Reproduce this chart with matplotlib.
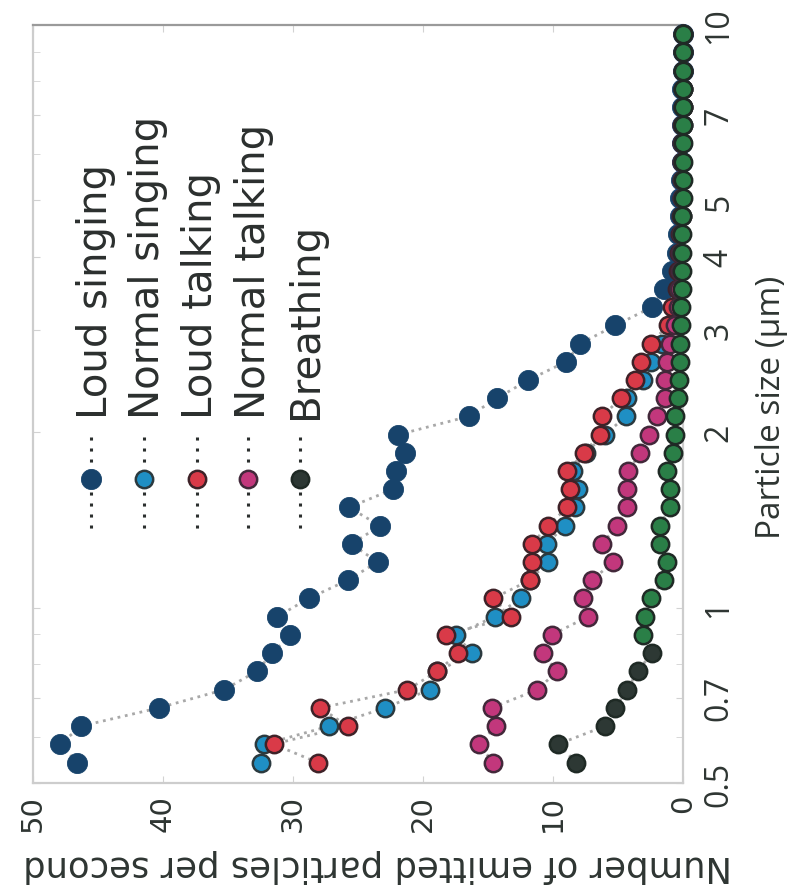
import matplotlib
matplotlib.use("Agg")
import matplotlib.pyplot as plt
from matplotlib.lines import Line2D
import numpy as np

# ---------------- data ----------------
sizes = [0.542, 0.583, 0.626, 0.673, 0.723, 0.777, 0.835, 0.898, 0.965, 1.037,
         1.114, 1.197, 1.286, 1.382, 1.486, 1.596, 1.715, 1.843, 1.981, 2.129,
         2.288, 2.458, 2.642, 2.839, 3.051, 3.278, 3.523, 3.786, 4.068, 4.371,
         4.698, 5.048, 5.425, 5.829, 6.264, 6.732, 7.234, 7.774, 8.354, 8.977, 9.647]

loud_singing = [46.6, 47.9, 46.3, 40.3, 35.3, 32.8, 31.6, 30.2, 31.2, 28.8,
                25.8, 23.5, 25.5, 23.3, 25.7, 22.3, 22.1, 21.4, 21.9, 16.5,
                14.3, 11.9, 9.0, 7.9, 5.2, 2.4, 1.5, 0.85, 0.5, 0.35,
                0.25, 0.2, 0.15, 0.1, 0.08, 0.06, 0.05, 0.04, 0.03, 0.02, 0.02]
normal_singing = [32.5, 32.2, 27.2, 22.9, 19.5, 18.9, 16.2, 17.5, 14.5, 12.5,
                  11.8, 10.4, 10.5, 9.1, 8.3, 8.1, 8.5, 7.5, 6.0, 4.4,
                  4.3, 3.1, 2.5, 1.6, 0.85, 0.6, 0.4, 0.3, 0.2, 0.15,
                  0.1, 0.08, 0.06, 0.05, 0.04, 0.03, 0.02, 0.02, 0.01, 0.01, 0.01]
loud_talking = [28.1, 31.5, 25.8, 27.9, 21.2, 18.9, 17.3, 18.2, 13.2, 14.6,
                11.8, 11.6, 11.6, 10.4, 8.9, 8.7, 8.9, 7.6, 6.4, 6.2,
                4.8, 3.7, 3.2, 2.5, 1.15, 0.85, 0.5, 0.4, 0.3, 0.2,
                0.15, 0.1, 0.08, 0.06, 0.05, 0.04, 0.03, 0.02, 0.02, 0.01, 0.01]
normal_talking = [14.6, 15.7, 14.4, 14.7, 11.2, 9.7, 10.8, 10.1, 7.3, 7.7,
                  7.0, 5.4, 6.2, 5.1, 4.3, 4.3, 4.2, 3.3, 2.6, 2.0,
                  1.4, 1.4, 1.2, 1.0, 0.6, 0.4, 0.3, 0.25, 0.2, 0.15,
                  0.1, 0.08, 0.06, 0.05, 0.04, 0.03, 0.02, 0.02, 0.01, 0.01, 0.01]
breathing = [8.2, 9.6, 6.0, 5.2, 4.3, 3.5, 2.4, 3.1, 2.9, 2.5,
             1.5, 1.2, 1.8, 1.8, 1.0, 1.0, 1.2, 0.8, 0.6, 0.6,
             0.4, 0.3, 0.25, 0.2, 0.15, 0.12, 0.1, 0.08, 0.06, 0.05,
             0.04, 0.03, 0.03, 0.02, 0.02, 0.01, 0.01, 0.01, 0.0, 0.0, 0.0]

series_names = ["Loud singing", "Normal singing", "Loud talking", "Normal talking", "Breathing"]
size_ticks = [0.5, 0.7, 1, 2, 3, 4, 5, 7, 10]
size_tick_labels = ["0.5", "0.7", "1", "2", "3", "4", "5", "7", "10"]
count_ticks = [0, 10, 20, 30, 40, 50]
count_tick_labels = ["0", "10", "20", "30", "40", "50"]

# ---------------- style ----------------
W, H = 788, 895
fig = plt.figure(figsize=(W / 100, H / 100), dpi=100)
fig.patch.set_facecolor("white")

ax_l, ax_r, ax_t, ax_b = 33, 683, 26, 784
ax = fig.add_axes([ax_l / W, 1 - ax_b / H, (ax_r - ax_l) / W, (ax_b - ax_t) / H])

styles = [
    dict(mfc="#17436b", mec="#17436b", ms=14.5, mew=0.6),
    dict(mfc="#1f8fc4", mec="#2b3a3f", ms=12.5, mew=1.8),
    dict(mfc="#d93a48", mec="#3e2228", ms=12.5, mew=1.8),
    dict(mfc="#c2377c", mec="#42283a", ms=12.5, mew=1.8),
    dict(mfc="#2d3834", mec="#1f2a25", ms=12.5, mew=1.8),
]
all_series = [loud_singing, normal_singing, loud_talking, normal_talking, breathing]

# dotted connecting lines beneath all markers
for vals in all_series:
    ax.plot(vals, sizes, linestyle=(0, (1, 1.7)), color="#a8a8a8", lw=2.0,
            zorder=1, clip_on=False)

for k, (vals, st) in enumerate(zip(all_series, styles)):
    if k == 4:
        # breathing: darker points at small sizes, green above
        sz = np.array(sizes)
        v = np.array(vals)
        dark = sz < 0.87
        ax.plot(v[dark], sz[dark], linestyle="none", marker="o", zorder=3 + k,
                clip_on=False, **st)
        st2 = dict(st)
        st2["mfc"] = "#2a7f47"
        ax.plot(v[~dark], sz[~dark], linestyle="none", marker="o", zorder=3 + k,
                clip_on=False, **st2)
    else:
        ax.plot(vals, sizes, linestyle="none", marker="o", zorder=3 + k,
                clip_on=False, **st)

ax.set_yscale("log")
ax.set_ylim(0.5, 10)
ax.set_xlim(50, 0)

ax.set_yticks(size_ticks)
ax.set_yticklabels(size_tick_labels)
ax.yaxis.set_minor_locator(matplotlib.ticker.LogLocator(base=10, subs=np.arange(2, 10) * 0.1 * 10 / 10, numticks=20))
ax.yaxis.set_minor_formatter(matplotlib.ticker.NullFormatter())
ax.yaxis.tick_right()
ax.yaxis.set_ticks_position("both")
ax.tick_params(axis="y", which="both", direction="in", length=5, color="#d2d2d2",
               labelright=True, labelleft=False, pad=14)
for lab in ax.get_yticklabels():
    lab.set_rotation(90)
    lab.set_fontfamily("Open Sans")
    lab.set_fontsize(23)
    lab.set_color("#2e3532")
    lab.set_va("center")
    lab.set_ha("left")

ax.set_xticks(count_ticks)
ax.set_xticklabels(count_tick_labels)
ax.xaxis.set_ticks_position("both")
ax.tick_params(axis="x", which="both", direction="in", length=5, color="#d2d2d2",
               labelbottom=True, labeltop=False, pad=8)
for lab in ax.get_xticklabels():
    lab.set_rotation(90)
    lab.set_fontfamily("DejaVu Sans")
    lab.set_fontsize(21)
    lab.set_color("#2e3532")
    lab.set_va("top")
    lab.set_ha("center")

for sp in ax.spines.values():
    sp.set_color("#cdcdcd")
    sp.set_linewidth(1.6)
ax.spines["top"].set_color("#9a9a9a")

# axis labels (figure placed)
fig.text(772 / W, 1 - 407 / H, "Particle size (\u03bcm)", rotation=90,
         ha="center", va="center", fontsize=24, family="Open Sans", color="#2e3532")
fig.text(378 / W, 1 - 866 / H, "Number of emitted particles per second", rotation=180,
         ha="center", va="center", fontsize=25.5, family="DejaVu Sans", color="#2e3532")

# legend (vertical entries)
marker_x = [91, 144, 197, 248, 300]
text_x = [107, 159.5, 212, 264.5, 317]
for k, name in enumerate(series_names):
    fx = marker_x[k] / W
    ln = Line2D([fx, fx], [1 - 438 / H, 1 - 530 / H], transform=fig.transFigure,
                linestyle=(0, (1, 2.6)), lw=2.2, color="#2b2f2e")
    fig.add_artist(ln)
    st = styles[k]
    mk = Line2D([fx], [1 - 480 / H], transform=fig.transFigure, marker="o",
                linestyle="none", **st)
    fig.add_artist(mk)
    fig.text(text_x[k] / W, 1 - 419 / H, name, rotation=90, rotation_mode="anchor",
             ha="left", va="baseline", fontsize=29, family="DejaVu Sans",
             color="#2b2f2e")

fig.savefig("out.png", dpi=100, facecolor="white")
